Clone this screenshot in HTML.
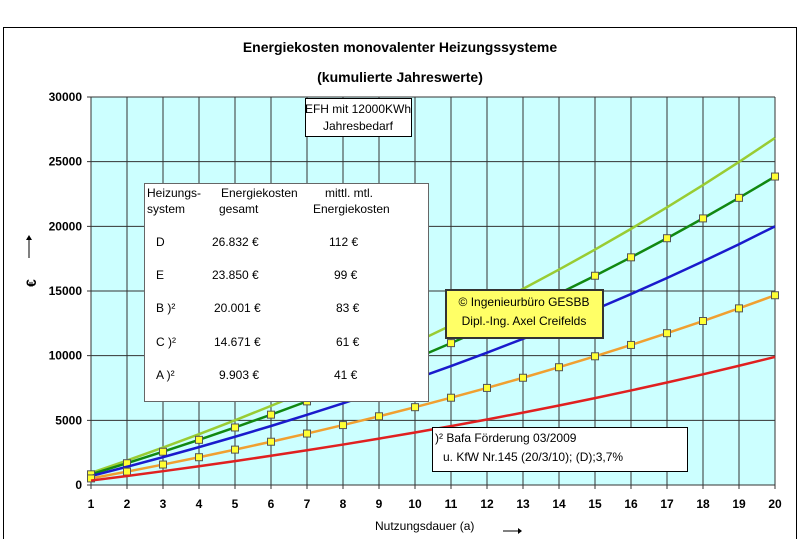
<!DOCTYPE html>
<html><head><meta charset="utf-8"><style>
body{margin:0;background:#fff;width:800px;height:539px;overflow:hidden}
svg{display:block;font-family:"Liberation Sans",Arial,sans-serif}
</style></head><body>
<svg id="s" width="800" height="539" viewBox="0 0 800 539">
<rect x="3.5" y="27.5" width="793" height="520" fill="#fff" stroke="#000" stroke-width="1"/>
<text x="400" y="52" font-size="14" font-weight="bold" text-anchor="middle">Energiekosten monovalenter Heizungssysteme</text>
<text x="400" y="82" font-size="14" font-weight="bold" text-anchor="middle">(kumulierte Jahreswerte)</text>
<rect x="91" y="97" width="684" height="388" fill="#ccffff"/>
<g id="grid" stroke="#333" stroke-width="1"></g>
<g id="lbl" font-size="12" font-weight="bold"></g>
<g id="ser" fill="none" stroke-width="2.5"></g>
<rect x="305.5" y="98.5" width="106" height="38" fill="#fff" stroke="#000"/>
<text x="358" y="113" font-size="12" text-anchor="middle">EFH mit 12000KWh</text>
<text x="358" y="130" font-size="12" text-anchor="middle">Jahresbedarf</text>
<g font-size="12">
<rect x="144.5" y="183.5" width="284" height="218" fill="#fff" stroke="#666"/>
<text x="147" y="197">Heizungs-</text><text x="147" y="213">system</text>
<text x="221" y="197">Energiekosten</text><text x="219" y="213">gesamt</text>
<text x="325" y="197">mittl. mtl.</text><text x="313" y="213">Energiekosten</text>
<text x="156" y="246">D</text><text x="212" y="246">26.832 €</text><text x="329" y="246">112 €</text>
<text x="156" y="279">E</text><text x="212" y="279">23.850 €</text><text x="334" y="279">99 €</text>
<text x="156" y="312">B )²</text><text x="214" y="312">20.001 €</text><text x="336" y="312">83 €</text>
<text x="156" y="346">C )²</text><text x="214" y="346">14.671 €</text><text x="336" y="346">61 €</text>
<text x="156" y="379">A )²</text><text x="219" y="379">9.903 €</text><text x="334" y="379">41 €</text>
</g>
<rect x="446" y="290" width="157" height="48" fill="#ffff66" stroke="#333" stroke-width="2"/>
<text x="524" y="306" font-size="12" text-anchor="middle">© Ingenieurbüro GESBB</text>
<text x="524" y="325" font-size="12" text-anchor="middle">Dipl.-Ing. Axel Creifelds</text>
<rect x="432.5" y="427.5" width="255" height="44" fill="#fff" stroke="#000"/>
<text x="435" y="442" font-size="12">)² Bafa Förderung 03/2009</text>
<text x="443" y="461" font-size="12">u. KfW Nr.145 (20/3/10); (D);3,7%</text>
<text x="375" y="530" font-size="12">Nutzungsdauer (a)</text>
<line x1="503" y1="531" x2="518" y2="531" stroke="#000"/><path d="M518 528L522 531L518 534Z"/>
<text x="36" y="297" font-size="14" font-weight="bold" transform="rotate(-90 31 292)">€</text>
<line x1="29" y1="258" x2="29" y2="240" stroke="#000"/><path d="M26 240L29 235L32 240Z"/>
</svg>
<script>
const X=k=>91+(k-1)*(684/19), Y=v=>485-v/30000*388;
let g='',l='';
for(let k=1;k<=20;k++){g+=`<line x1="${X(k)}" y1="97" x2="${X(k)}" y2="489"/>`;l+=`<text x="${X(k)}" y="508" text-anchor="middle">${k}</text>`;}
for(let v=0;v<=30000;v+=5000){g+=`<line x1="87" y1="${Y(v)}" x2="775" y2="${Y(v)}"/>`;l+=`<text x="82" y="${Y(v)+4}" text-anchor="end">${v}</text>`;}
document.getElementById('grid').innerHTML=g;document.getElementById('lbl').innerHTML=l;
const gr=0.037,S=(Math.pow(1+gr,20)-1)/gr;
const ser=[[26832,'#99cc33',0],[23850,'#118811',1],[20001,'#1a1acc',0],[14671,'#f0a030',1],[9903,'#e02020',0]];
let h='';
for(const [t,c,m] of ser){const b=t/S;let p=[];for(let k=1;k<=20;k++){p.push([X(k),Y(b*(Math.pow(1+gr,k)-1)/gr)]);}
h+=`<polyline stroke="${c}" points="${p.map(q=>q.join(',')).join(' ')}"/>`;
if(m)for(const q of p)h+=`<rect x="${q[0]-3.5}" y="${q[1]-3.5}" width="7" height="7" fill="#ffff33" stroke="#555" stroke-width="1"/>`;}
document.getElementById('ser').innerHTML=h;
</script>
</body></html>
